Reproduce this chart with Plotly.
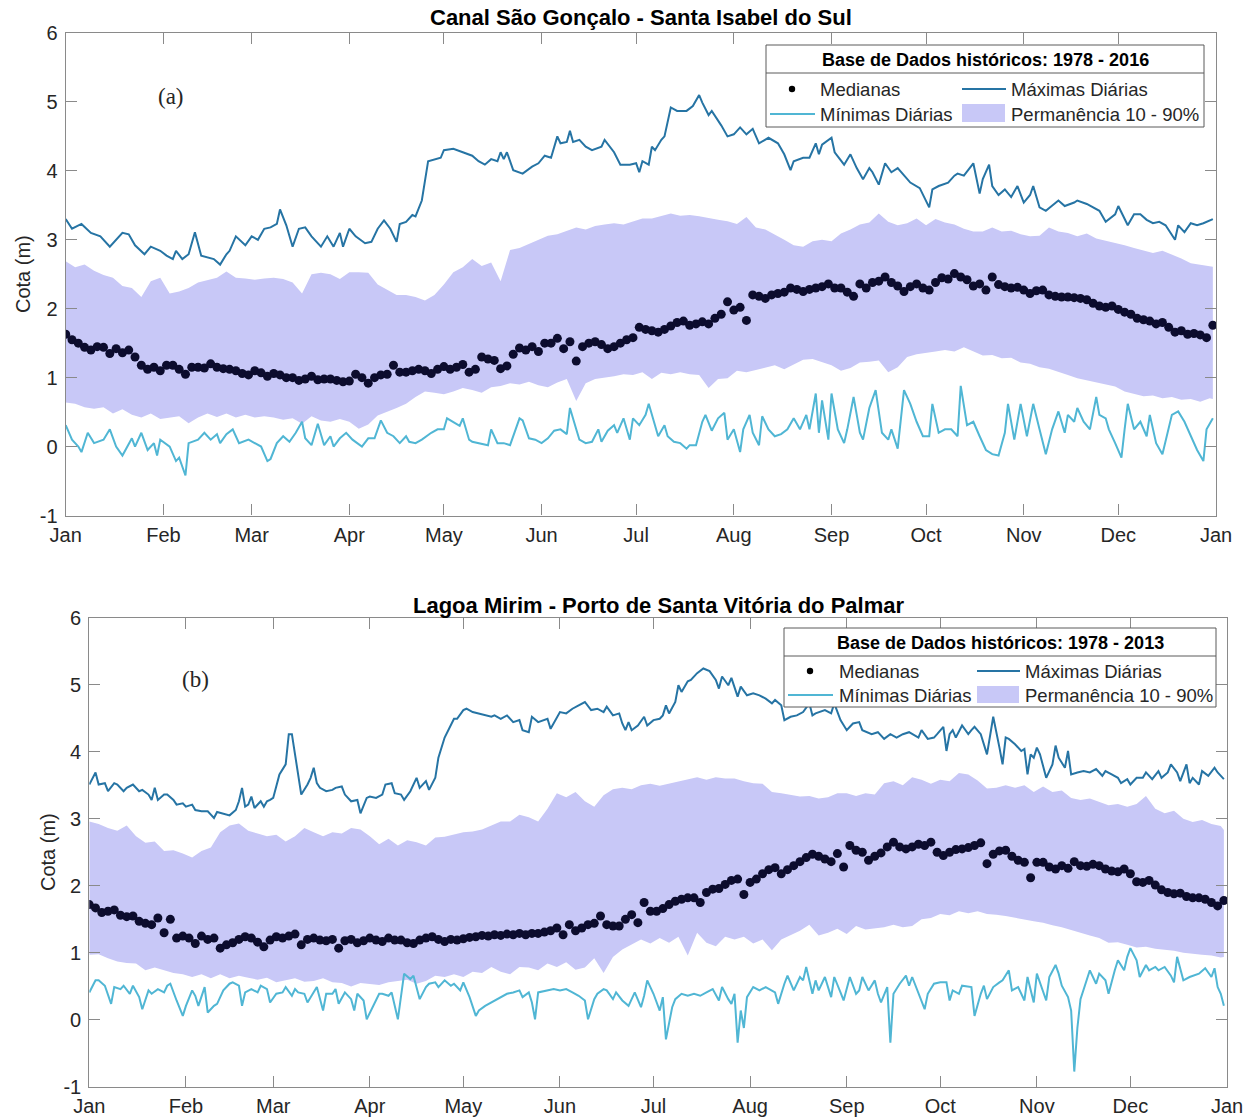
import plotly.graph_objects as go

W, H = 1250, 1118

# ---------------------------------------------------------------------------
# Common calendar axis (day of year)
# ---------------------------------------------------------------------------
MONTH_START = [0, 31, 59, 90, 120, 151, 181, 212, 243, 273, 304, 334, 365]
MONTH_LABELS = ["Jan", "Feb", "Mar", "Apr", "May", "Jun", "Jul",
                "Aug", "Sep", "Oct", "Nov", "Dec", "Jan"]
Y_TICKS = [-1, 0, 1, 2, 3, 4, 5, 6]

MED_DAYS = list(range(0, 365, 2))                 # median sampled every 2 days
BAND_DAYS = list(range(0, 364, 3)) + [364]        # 10-90 % band sampled every 3 days

# ---------------------------------------------------------------------------
# (a) Canal São Gonçalo - Santa Isabel do Sul  (1978 - 2016)
# ---------------------------------------------------------------------------
MED_A = [
    1.63, 1.55, 1.50, 1.44, 1.40, 1.45, 1.44, 1.35, 1.42, 1.36,
    1.40, 1.30, 1.18, 1.12, 1.15, 1.10, 1.18, 1.18, 1.12, 1.05,
    1.15, 1.15, 1.14, 1.20, 1.15, 1.13, 1.12, 1.10, 1.06, 1.04,
    1.10, 1.07, 1.02, 1.06, 1.04, 1.00, 1.00, 0.96, 0.98, 1.02,
    0.97, 0.98, 0.98, 0.96, 0.94, 0.95, 1.05, 1.00, 0.92, 1.00,
    1.04, 1.05, 1.18, 1.08, 1.08, 1.10, 1.12, 1.10, 1.06, 1.12,
    1.16, 1.12, 1.15, 1.19, 1.08, 1.12, 1.30, 1.27, 1.25, 1.13,
    1.17, 1.34, 1.43, 1.40, 1.45, 1.38, 1.50, 1.50, 1.57, 1.42,
    1.52, 1.24, 1.45, 1.50, 1.52, 1.48, 1.42, 1.45, 1.50, 1.55,
    1.58, 1.73, 1.70, 1.68, 1.66, 1.70, 1.75, 1.80, 1.82, 1.76,
    1.78, 1.81, 1.78, 1.86, 1.92, 2.10, 1.98, 2.02, 1.83, 2.20,
    2.18, 2.15, 2.20, 2.22, 2.24, 2.30, 2.28, 2.25, 2.28, 2.30,
    2.32, 2.36, 2.30, 2.30, 2.24, 2.18, 2.36, 2.30, 2.38, 2.40,
    2.46, 2.38, 2.33, 2.25, 2.32, 2.36, 2.30, 2.27, 2.38, 2.45,
    2.43, 2.51, 2.46, 2.42, 2.33, 2.36, 2.27, 2.46, 2.35, 2.32,
    2.30, 2.31, 2.27, 2.22, 2.26, 2.27, 2.20, 2.18, 2.17, 2.17,
    2.16, 2.15, 2.13, 2.08, 2.04, 2.02, 2.04, 1.99, 1.95, 1.92,
    1.86, 1.84, 1.82, 1.78, 1.80, 1.73, 1.66, 1.68, 1.63, 1.64,
    1.62, 1.58, 1.76,
]

BAND_A_UP = [
    2.69, 2.60, 2.64, 2.55, 2.49, 2.45, 2.33, 2.30, 2.17, 2.40,
    2.45, 2.22, 2.25, 2.30, 2.38, 2.42, 2.45, 2.54, 2.45, 2.44,
    2.42, 2.44, 2.45, 2.43, 2.38, 2.22, 2.50, 2.52, 2.50, 2.43,
    2.53, 2.53, 2.52, 2.35, 2.27, 2.20, 2.20, 2.17, 2.12, 2.20,
    2.35, 2.53, 2.60, 2.72, 2.62, 2.67, 2.40, 2.85, 2.88, 2.94,
    3.00, 3.06, 3.08, 3.13, 3.18, 3.15, 3.20, 3.22, 3.24, 3.22,
    3.26, 3.31, 3.31, 3.34, 3.38, 3.35, 3.36, 3.34, 3.31, 3.29,
    3.27, 3.23, 3.33, 3.18, 3.15, 3.08, 3.00, 2.92, 2.90, 2.98,
    3.00, 2.98, 3.09, 3.15, 3.22, 3.25, 3.38, 3.26, 3.21, 3.24,
    3.31, 3.21, 3.30, 3.25, 3.22, 3.16, 3.12, 3.12, 3.18, 3.12,
    3.13, 3.08, 3.05, 3.06, 3.18, 3.12, 3.10, 3.05, 3.09, 3.02,
    2.99, 2.95, 2.92, 2.88, 2.84, 2.81, 2.84, 2.79, 2.73, 2.66,
    2.64, 2.62, 2.61,
]

BAND_A_LO = [
    0.64, 0.62, 0.57, 0.55, 0.57, 0.48, 0.54, 0.46, 0.42, 0.48,
    0.40, 0.42, 0.44, 0.34, 0.42, 0.48, 0.43, 0.48, 0.42, 0.46,
    0.42, 0.44, 0.42, 0.39, 0.41, 0.33, 0.44, 0.38, 0.36, 0.40,
    0.36, 0.26, 0.32, 0.45, 0.50, 0.56, 0.62, 0.72, 0.80, 0.78,
    0.76, 0.80, 0.85, 0.82, 0.78, 0.86, 0.88, 0.92, 0.90, 0.94,
    0.89, 0.86, 0.93, 0.98, 0.66, 0.92, 0.98, 1.00, 1.02, 1.05,
    1.04, 1.08, 0.98, 1.07, 1.05, 1.08, 1.05, 1.04, 0.85, 0.98,
    0.99, 1.10, 1.08, 1.11, 1.14, 1.18, 1.12, 1.19, 1.26, 1.27,
    1.22, 1.18, 1.10, 1.14, 1.22, 1.23, 1.25, 1.08, 1.15, 1.30,
    1.34, 1.36, 1.38, 1.40, 1.38, 1.44, 1.38, 1.32, 1.33, 1.28,
    1.29, 1.22, 1.20, 1.15, 1.13, 1.08, 1.04, 0.99, 0.96, 0.92,
    0.90, 0.87, 0.80, 0.76, 0.73, 0.74, 0.70, 0.72, 0.68, 0.69,
    0.65, 0.70, 0.69,
]

MAX_A_DAY = [
    0, 2, 5, 8, 11, 14, 18, 20, 22, 25,
    27, 30, 32, 34, 35, 37, 39, 41, 43, 45,
    47, 49, 51, 52, 54, 57, 59, 61, 63, 65,
    67, 68, 70, 72, 74, 76, 78, 81, 83, 85,
    87, 88, 90, 92, 95, 97, 99, 101, 103, 105,
    106, 108, 110, 111, 113, 115, 117, 119, 120, 123,
    126, 129, 131, 133, 135, 137, 138, 139, 140, 142,
    145, 148, 150, 152, 154, 156, 157, 159, 160, 161,
    163, 165, 167, 168, 170, 171, 174, 176, 179, 181,
    182, 183, 185, 186, 187, 189, 190, 192, 194, 197,
    199, 201, 202, 204, 205, 208, 210, 212, 214, 216,
    218, 220, 223, 226, 228, 230, 231, 234, 236, 238,
    239, 240, 243, 244, 247, 249, 251, 253, 255, 256,
    258, 260, 262, 264, 266, 268, 271, 274, 275, 277,
    280, 282, 283, 285, 288, 289, 290, 291, 293, 294,
    296, 298, 300, 302, 304, 306, 307, 309, 311, 315,
    317, 320, 321, 324, 326, 328, 330, 333, 334, 336,
    337, 339, 341, 343, 345, 347, 349, 352, 353, 355,
    357, 359, 361, 364,
]
MAX_A = [
    3.30, 3.16, 3.23, 3.10, 3.05, 2.90, 3.10, 3.08, 2.92, 2.79,
    2.90, 2.84, 2.77, 2.72, 2.84, 2.72, 2.79, 3.11, 2.77, 2.74,
    2.72, 2.64, 2.79, 2.84, 3.05, 2.92, 3.05, 3.00, 3.16, 3.18,
    3.23, 3.44, 3.21, 2.90, 3.16, 3.18, 3.05, 2.90, 3.05, 2.90,
    3.10, 2.90, 3.16, 3.05, 2.95, 2.97, 3.16, 3.28, 3.16, 2.97,
    3.23, 3.26, 3.36, 3.34, 3.57, 4.14, 4.17, 4.19, 4.30, 4.32,
    4.27, 4.22, 4.14, 4.09, 4.17, 4.14, 4.27, 4.17, 4.27, 4.01,
    3.96, 4.06, 4.11, 4.22, 4.19, 4.50, 4.40, 4.42, 4.58, 4.42,
    4.45, 4.35, 4.30, 4.32, 4.35, 4.45, 4.27, 4.09, 4.09, 4.11,
    3.98, 4.14, 4.09, 4.35, 4.30, 4.45, 4.50, 4.92, 4.87, 4.87,
    4.94, 5.10, 4.99, 4.81, 4.87, 4.66, 4.50, 4.53, 4.63, 4.53,
    4.61, 4.40, 4.48, 4.40, 4.24, 4.01, 4.14, 4.19, 4.19, 4.40,
    4.24, 4.38, 4.48, 4.27, 4.09, 4.24, 4.04, 3.88, 4.04, 3.98,
    3.80, 4.11, 3.98, 4.04, 3.93, 3.83, 3.75, 3.47, 3.73, 3.78,
    3.83, 3.93, 3.96, 3.93, 4.11, 3.88, 3.67, 3.88, 4.09, 3.78,
    3.65, 3.73, 3.62, 3.78, 3.54, 3.65, 3.78, 3.47, 3.42, 3.57,
    3.49, 3.54, 3.57, 3.52, 3.47, 3.42, 3.26, 3.37, 3.49, 3.31,
    3.21, 3.37, 3.37, 3.29, 3.24, 3.26, 3.21, 3.00, 3.21, 3.11,
    3.24, 3.21, 3.24, 3.30,
]

MIN_A_DAY = [
    0, 2, 4, 5, 7, 9, 12, 14, 16, 18,
    21, 22, 24, 26, 28, 29, 30, 33, 35, 36,
    38, 39, 42, 44, 46, 48, 49, 51, 53, 55,
    58, 60, 62, 64, 65, 67, 69, 71, 73, 75,
    76, 78, 80, 82, 84, 85, 87, 89, 91, 94,
    96, 98, 100, 102, 104, 106, 108, 109, 111, 113,
    116, 118, 120, 121, 123, 125, 126, 128, 129, 131,
    134, 135, 137, 139, 141, 144, 145, 147, 149, 151,
    153, 155, 157, 159, 160, 162, 163, 165, 167, 169,
    170, 172, 174, 175, 177, 179, 180, 182, 184, 185,
    187, 188, 190, 191, 193, 195, 197, 198, 200, 202,
    203, 205, 207, 209, 210, 212, 214, 215, 217, 218,
    220, 221, 223, 225, 227, 229, 231, 233, 235, 236,
    238, 239, 240, 242, 243, 245, 247, 248, 250, 252,
    253, 255, 257, 259, 261, 262, 264, 266, 268, 270,
    272, 274, 275, 277, 279, 281, 283, 284, 286, 288,
    290, 292, 294, 296, 298, 299, 301, 303, 305, 307,
    309, 311, 313, 315, 317, 318, 320, 321, 323, 325,
    327, 328, 330, 331, 333, 335, 336, 337, 339, 341,
    343, 344, 346, 348, 351, 353, 355, 357, 359, 361,
    362, 364,
]
MIN_A = [
    0.31, 0.10, 0.00, -0.08, 0.20, 0.05, 0.10, 0.25, 0.00, -0.13,
    0.12, 0.00, 0.20, -0.05, 0.05, -0.13, 0.10, 0.00, -0.21, -0.16,
    -0.42, 0.05, 0.10, 0.20, 0.10, 0.18, 0.05, 0.18, 0.25, 0.05,
    0.10, 0.05, 0.00, -0.21, -0.18, 0.05, 0.15, 0.07, 0.20, 0.36,
    0.12, 0.02, 0.33, 0.02, 0.15, 0.00, 0.12, 0.20, 0.10, 0.00,
    0.12, 0.12, 0.38, 0.20, 0.15, 0.05, 0.15, 0.07, 0.05, 0.10,
    0.20, 0.25, 0.25, 0.41, 0.36, 0.30, 0.41, 0.10, 0.07, 0.05,
    0.02, 0.25, 0.05, 0.05, 0.02, 0.41, 0.38, 0.12, 0.10, 0.05,
    0.12, 0.23, 0.25, 0.18, 0.56, 0.25, 0.10, 0.05, 0.07, 0.25,
    0.07, 0.23, 0.31, 0.20, 0.41, 0.10, 0.41, 0.31, 0.46, 0.62,
    0.31, 0.15, 0.31, 0.15, 0.07, 0.05, -0.03, 0.02, 0.02, 0.36,
    0.46, 0.23, 0.41, 0.49, 0.10, 0.25, -0.08, 0.25, 0.46, 0.20,
    0.02, 0.44, 0.25, 0.15, 0.18, 0.25, 0.41, 0.25, 0.46, 0.25,
    0.77, 0.20, 0.67, 0.10, 0.77, 0.25, 0.05, 0.25, 0.72, 0.20,
    0.10, 0.56, 0.82, 0.20, 0.10, 0.25, -0.03, 0.82, 0.62, 0.36,
    0.15, 0.15, 0.62, 0.20, 0.25, 0.25, 0.15, 0.88, 0.31, 0.36,
    0.15, -0.05, -0.11, -0.13, 0.20, 0.62, 0.10, 0.62, 0.15, 0.62,
    0.25, -0.11, 0.25, 0.51, 0.20, 0.46, 0.36, 0.56, 0.36, 0.25,
    0.72, 0.46, 0.41, 0.25, 0.05, -0.16, 0.25, 0.62, 0.25, 0.36,
    0.15, 0.46, 0.05, -0.11, 0.46, 0.51, 0.36, 0.15, -0.05, -0.21,
    0.25, 0.41,
]

# ---------------------------------------------------------------------------
# (b) Lagoa Mirim - Porto de Santa Vitória do Palmar  (1978 - 2013)
# ---------------------------------------------------------------------------
MED_B = [
    1.72, 1.67, 1.60, 1.62, 1.64, 1.56, 1.54, 1.55, 1.47, 1.44,
    1.42, 1.52, 1.30, 1.50, 1.22, 1.25, 1.22, 1.14, 1.25, 1.20,
    1.22, 1.07, 1.12, 1.15, 1.20, 1.24, 1.22, 1.16, 1.09, 1.19,
    1.24, 1.22, 1.25, 1.28, 1.12, 1.20, 1.22, 1.19, 1.18, 1.20,
    1.07, 1.18, 1.20, 1.15, 1.18, 1.22, 1.19, 1.17, 1.22, 1.19,
    1.19, 1.15, 1.14, 1.19, 1.22, 1.24, 1.20, 1.17, 1.20, 1.19,
    1.21, 1.23, 1.24, 1.26, 1.25, 1.27, 1.26, 1.28, 1.27, 1.29,
    1.27, 1.29, 1.29, 1.31, 1.33, 1.37, 1.27, 1.42, 1.33, 1.37,
    1.42, 1.44, 1.55, 1.42, 1.40, 1.40, 1.50, 1.57, 1.45, 1.75,
    1.62, 1.62, 1.66, 1.72, 1.77, 1.80, 1.82, 1.82, 1.75, 1.90,
    1.95, 1.96, 2.02, 2.08, 2.10, 1.87, 2.05, 2.10, 2.18, 2.24,
    2.27, 2.18, 2.24, 2.30, 2.36, 2.42, 2.47, 2.44, 2.40, 2.36,
    2.48, 2.28, 2.60, 2.53, 2.50, 2.38, 2.44, 2.49, 2.58, 2.65,
    2.58, 2.55, 2.58, 2.62, 2.60, 2.65, 2.50, 2.45, 2.50, 2.54,
    2.55, 2.57, 2.60, 2.64, 2.33, 2.47, 2.52, 2.53, 2.44, 2.38,
    2.35, 2.12, 2.35, 2.35, 2.28, 2.25, 2.30, 2.26, 2.36, 2.30,
    2.29, 2.32, 2.30, 2.25, 2.22, 2.21, 2.25, 2.18, 2.06, 2.05,
    2.08, 2.01, 1.94, 1.90, 1.88, 1.89, 1.84, 1.82, 1.82, 1.80,
    1.75, 1.70, 1.78,
]

BAND_B_UP = [
    2.96, 2.92, 2.86, 2.82, 2.90, 2.74, 2.64, 2.66, 2.52, 2.53,
    2.48, 2.42, 2.52, 2.57, 2.80, 2.90, 2.93, 2.82, 2.78, 2.74,
    2.76, 2.66, 2.74, 2.86, 2.80, 2.74, 2.80, 2.78, 2.86, 2.84,
    2.74, 2.62, 2.70, 2.60, 2.68, 2.65, 2.60, 2.72, 2.73, 2.76,
    2.80, 2.81, 2.84, 2.90, 2.96, 2.96, 3.06, 3.02, 2.96, 3.15,
    3.38, 3.32, 3.40, 3.26, 3.18, 3.35, 3.44, 3.46, 3.44, 3.50,
    3.52, 3.49, 3.52, 3.56, 3.58, 3.62, 3.58, 3.62, 3.60, 3.60,
    3.56, 3.53, 3.52, 3.40, 3.38, 3.36, 3.33, 3.34, 3.30, 3.32,
    3.38, 3.38, 3.34, 3.38, 3.36, 3.53, 3.56, 3.50, 3.62, 3.58,
    3.52, 3.58, 3.56, 3.68, 3.66, 3.57, 3.45, 3.46, 3.50, 3.46,
    3.50, 3.40, 3.48, 3.40, 3.42, 3.31, 3.28, 3.30, 3.25, 3.20,
    3.22, 3.18, 3.22, 3.34, 3.15, 3.08, 3.12, 3.00, 2.95, 2.98,
    2.92, 2.89, 2.83,
]

BAND_B_LO = [
    0.97, 0.98, 0.92, 0.87, 0.85, 0.84, 0.74, 0.78, 0.74, 0.70,
    0.68, 0.64, 0.68, 0.62, 0.68, 0.62, 0.66, 0.63, 0.60, 0.63,
    0.56, 0.59, 0.62, 0.57, 0.58, 0.62, 0.56, 0.55, 0.50, 0.55,
    0.53, 0.52, 0.56, 0.58, 0.60, 0.54, 0.58, 0.66, 0.64, 0.68,
    0.64, 0.72, 0.70, 0.79, 0.72, 0.68, 0.79, 0.78, 0.74, 0.84,
    0.79, 0.86, 0.75, 0.78, 0.92, 0.70, 0.94, 1.05, 1.12, 1.20,
    1.14, 1.22, 1.15, 1.24, 0.96, 1.30, 1.15, 1.10, 1.24, 1.20,
    1.24, 1.14, 1.20, 1.04, 1.20, 1.26, 1.33, 1.42, 1.26, 1.30,
    1.36, 1.28, 1.40, 1.35, 1.36, 1.38, 1.42, 1.38, 1.40, 1.50,
    1.52, 1.58, 1.56, 1.62, 1.59, 1.62, 1.58, 1.57, 1.55, 1.52,
    1.50, 1.47, 1.45, 1.41, 1.38, 1.35, 1.30, 1.26, 1.22, 1.15,
    1.16, 1.12, 1.08, 1.09, 1.06, 1.04, 1.03, 1.00, 0.98, 0.97,
    0.96, 0.93, 0.94,
]

MAX_B_DAY = [
    0, 1, 2, 3, 5, 6, 8, 9, 11, 12,
    14, 16, 17, 19, 20, 21, 22, 24, 25, 27,
    28, 30, 31, 33, 34, 36, 38, 39, 40, 41,
    43, 45, 47, 48, 49, 50, 51, 52, 53, 55,
    56, 57, 58, 59, 61, 63, 64, 65, 66, 67,
    68, 70, 71, 72, 73, 74, 76, 78, 79, 81,
    82, 84, 86, 87, 89, 90, 92, 94, 95, 97,
    98, 100, 101, 103, 105, 106, 108, 109, 111, 112,
    114, 117, 118, 120, 121, 123, 125, 127, 129, 130,
    132, 134, 136, 138, 139, 141, 142, 144, 147, 148,
    150, 151, 153, 155, 157, 159, 161, 163, 165, 166,
    168, 170, 171, 172, 173, 174, 176, 178, 179, 181,
    183, 184, 185, 186, 188, 189, 190, 192, 193, 195,
    197, 199, 201, 202, 203, 205, 206, 208, 209, 211,
    213, 215, 217, 219, 220, 222, 223, 225, 227, 229,
    231, 232, 233, 236, 238, 239, 241, 243, 245, 247,
    248, 251, 253, 255, 257, 259, 261, 263, 266, 267,
    269, 271, 272, 274, 275, 276, 277, 278, 280, 282,
    283, 284, 286, 288, 290, 291, 292, 293, 294, 295,
    297, 299, 300, 301, 302, 303, 304, 305, 306, 307,
    309, 310, 311, 313, 314, 315, 317, 319, 321, 323,
    325, 326, 328, 330, 331, 333, 334, 336, 338, 339,
    341, 343, 344, 346, 347, 349, 350, 352, 353, 354,
    356, 357, 359, 361, 362, 364,
]
MAX_B = [
    3.51, 3.59, 3.69, 3.51, 3.53, 3.41, 3.53, 3.51, 3.41, 3.46,
    3.51, 3.41, 3.43, 3.36, 3.28, 3.46, 3.28, 3.36, 3.36, 3.28,
    3.21, 3.23, 3.18, 3.21, 3.13, 3.11, 3.11, 3.06, 3.01, 3.10,
    3.08, 3.05, 3.13, 3.26, 3.46, 3.18, 3.21, 3.33, 3.16, 3.26,
    3.18, 3.26, 3.28, 3.31, 3.66, 3.81, 4.26, 4.26, 3.96, 3.66,
    3.36, 3.51, 3.61, 3.76, 3.53, 3.46, 3.41, 3.43, 3.46, 3.48,
    3.36, 3.26, 3.28, 3.08, 3.31, 3.33, 3.31, 3.36, 3.51, 3.53,
    3.38, 3.36, 3.28, 3.41, 3.61, 3.46, 3.56, 3.43, 3.61, 3.91,
    4.21, 4.49, 4.49, 4.62, 4.64, 4.59, 4.57, 4.54, 4.52, 4.54,
    4.49, 4.54, 4.44, 4.47, 4.32, 4.29, 4.52, 4.44, 4.49, 4.34,
    4.52, 4.59, 4.57, 4.64, 4.69, 4.74, 4.62, 4.64, 4.59, 4.67,
    4.54, 4.57, 4.42, 4.32, 4.44, 4.32, 4.39, 4.52, 4.39, 4.47,
    4.49, 4.54, 4.69, 4.57, 4.74, 4.99, 4.89, 5.05, 5.07, 5.17,
    5.24, 5.20, 5.07, 4.94, 5.12, 4.99, 5.10, 4.82, 4.97, 4.84,
    4.87, 4.84, 4.79, 4.72, 4.77, 4.69, 4.47, 4.52, 4.54, 4.59,
    4.72, 4.54, 4.57, 4.62, 4.57, 4.72, 4.47, 4.32, 4.42, 4.44,
    4.32, 4.26, 4.29, 4.19, 4.26, 4.21, 4.26, 4.29, 4.21, 4.32,
    4.19, 4.21, 4.26, 4.37, 4.01, 4.26, 4.32, 4.21, 4.39, 4.26,
    4.32, 4.37, 4.26, 3.96, 4.52, 4.26, 4.06, 3.81, 4.21, 4.19,
    4.11, 4.01, 4.04, 3.66, 3.96, 3.91, 4.06, 3.96, 3.76, 3.61,
    3.81, 4.09, 3.91, 3.76, 4.01, 3.66, 3.69, 3.71, 3.69, 3.74,
    3.64, 3.71, 3.66, 3.61, 3.53, 3.59, 3.51, 3.61, 3.61, 3.69,
    3.59, 3.71, 3.61, 3.69, 3.81, 3.69, 3.56, 3.81, 3.53, 3.61,
    3.51, 3.71, 3.64, 3.76, 3.69, 3.59,
]

MIN_B_DAY = [
    0, 2, 3, 5, 7, 8, 10, 11, 13, 14,
    16, 17, 19, 20, 22, 24, 25, 26, 28, 30,
    31, 33, 34, 35, 37, 38, 40, 41, 43, 45,
    46, 48, 49, 50, 52, 54, 55, 57, 58, 60,
    62, 63, 65, 66, 67, 69, 70, 72, 73, 75,
    76, 78, 79, 80, 82, 84, 85, 86, 88, 89,
    91, 93, 94, 96, 97, 99, 101, 103, 104, 106,
    108, 109, 111, 112, 114, 116, 117, 119, 120, 122,
    124, 125, 127, 129, 132, 134, 136, 138, 139, 141,
    142, 143, 144, 147, 149, 151, 153, 155, 157, 159,
    160, 162, 163, 165, 166, 168, 169, 171, 173, 175,
    177, 178, 179, 181, 183, 184, 185, 187, 188, 190,
    192, 194, 196, 198, 200, 202, 203, 205, 206, 207,
    208, 209, 210, 211, 213, 215, 217, 220, 221, 223,
    224, 226, 228, 229, 230, 232, 233, 234, 236, 238,
    239, 241, 242, 244, 246, 247, 248, 250, 252, 253,
    254, 256, 257, 258, 260, 262, 263, 264, 266, 268,
    269, 271, 273, 275, 276, 277, 279, 280, 283, 284,
    286, 287, 288, 290, 292, 293, 295, 296, 298, 300,
    301, 303, 304, 306, 307, 308, 310, 311, 312, 314,
    315, 316, 317, 318, 320, 321, 323, 324, 326, 327,
    329, 330, 332, 333, 334, 336, 337, 339, 340, 342,
    343, 345, 347, 348, 349, 351, 353, 354, 356, 358,
    360, 361, 362, 363, 364,
]
MIN_B = [
    0.41, 0.59, 0.59, 0.51, 0.24, 0.49, 0.46, 0.51, 0.39, 0.51,
    0.34, 0.16, 0.44, 0.39, 0.46, 0.41, 0.51, 0.54, 0.29, 0.06,
    0.21, 0.44, 0.36, 0.21, 0.49, 0.11, 0.21, 0.24, 0.44, 0.54,
    0.56, 0.51, 0.21, 0.41, 0.46, 0.41, 0.51, 0.46, 0.26, 0.39,
    0.41, 0.49, 0.36, 0.46, 0.41, 0.39, 0.26, 0.41, 0.49, 0.14,
    0.39, 0.39, 0.46, 0.24, 0.41, 0.31, 0.14, 0.39, 0.29, 0.01,
    0.19, 0.39, 0.39, 0.36, 0.41, 0.01, 0.69, 0.61, 0.66, 0.31,
    0.49, 0.54, 0.56, 0.49, 0.59, 0.51, 0.54, 0.44, 0.56, 0.34,
    0.06, 0.14, 0.21, 0.26, 0.34, 0.39, 0.41, 0.44, 0.34, 0.41,
    0.26, 0.01, 0.41, 0.44, 0.46, 0.44, 0.46, 0.41, 0.36, 0.29,
    0.01, 0.31, 0.39, 0.46, 0.44, 0.31, 0.41, 0.29, 0.21, 0.41,
    0.19, 0.36, 0.59, 0.39, 0.14, 0.34, -0.29, 0.19, 0.31, 0.39,
    0.36, 0.39, 0.36, 0.41, 0.46, 0.29, 0.49, 0.31, 0.24, 0.39,
    -0.34, 0.14, -0.12, 0.34, 0.49, 0.44, 0.49, 0.41, 0.24, 0.54,
    0.66, 0.44, 0.64, 0.59, 0.79, 0.39, 0.59, 0.44, 0.64, 0.34,
    0.64, 0.41, 0.29, 0.64, 0.39, 0.44, 0.64, 0.44, 0.59, 0.39,
    0.26, 0.49, -0.34, 0.39, 0.54, 0.66, 0.51, 0.64, 0.39, 0.16,
    0.39, 0.54, 0.56, 0.56, 0.29, 0.44, 0.39, 0.51, 0.49, 0.06,
    0.39, 0.51, 0.31, 0.49, 0.56, 0.59, 0.74, 0.44, 0.49, 0.29,
    0.64, 0.26, 0.69, 0.44, 0.29, 0.64, 0.82, 0.69, 0.51, 0.34,
    0.14, -0.77, -0.12, 0.31, 0.59, 0.74, 0.54, 0.69, 0.59, 0.39,
    0.74, 0.89, 0.74, 0.94, 1.07, 0.89, 0.64, 0.82, 0.74, 0.79,
    0.74, 0.79, 0.66, 0.56, 0.94, 0.59, 0.64, 0.66, 0.69, 0.77,
    0.64, 0.77, 0.49, 0.39, 0.21,
]

# ---------------------------------------------------------------------------
# Styling
# ---------------------------------------------------------------------------
SANS = "Liberation Sans, Arial, Helvetica, sans-serif"
SERIF = "Liberation Serif, Times New Roman, serif"
TXT = "#262626"
AX = "#8a8a8a"
BAND_COLOR = "rgb(200,200,247)"
MAX_COLOR = "rgb(38,116,164)"
MIN_COLOR = "rgb(80,182,212)"
MED_COLOR = "rgb(12,12,46)"


def fx(px):
    return px / W


def fy(py):
    return 1 - py / H


fig = go.Figure()


def add_panel(xa, ya, up, lo, max_d, max_v, min_d, min_v, med):
    fig.add_trace(go.Scatter(
        x=BAND_DAYS + BAND_DAYS[::-1], y=up + lo[::-1],
        fill="toself", fillcolor=BAND_COLOR, mode="lines",
        line=dict(width=0), xaxis=xa, yaxis=ya,
        hoverinfo="skip", showlegend=False))
    fig.add_trace(go.Scatter(
        x=min_d, y=min_v, mode="lines",
        line=dict(color=MIN_COLOR, width=2),
        xaxis=xa, yaxis=ya, showlegend=False))
    fig.add_trace(go.Scatter(
        x=max_d, y=max_v, mode="lines",
        line=dict(color=MAX_COLOR, width=2),
        xaxis=xa, yaxis=ya, showlegend=False))
    fig.add_trace(go.Scatter(
        x=MED_DAYS, y=med, mode="markers",
        marker=dict(color=MED_COLOR, size=9, line=dict(width=0)),
        xaxis=xa, yaxis=ya, showlegend=False))


add_panel("x", "y", BAND_A_UP, BAND_A_LO, MAX_A_DAY, MAX_A, MIN_A_DAY, MIN_A, MED_A)
add_panel("x2", "y2", BAND_B_UP, BAND_B_LO, MAX_B_DAY, MAX_B, MIN_B_DAY, MIN_B, MED_B)

# panel frames in pixels: (left, right, top, bottom)
PANEL_A = (65.7, 1216.0, 33.0, 515.5)
PANEL_B = (89.3, 1227.0, 617.5, 1087.0)


def x_axis(panel, anchor):
    l, r, t, b = panel
    return dict(domain=[fx(l), fx(r)], range=[0, 365], anchor=anchor,
                tickmode="array", tickvals=MONTH_START, ticktext=MONTH_LABELS,
                ticks="inside", ticklen=11, tickwidth=1, tickcolor=AX,
                showline=True, linecolor=AX, linewidth=1.2, mirror="ticks",
                showgrid=False, zeroline=False, ticklabelstandoff=1,
                tickfont=dict(family=SANS, size=20, color=TXT))


def y_axis(panel, anchor):
    l, r, t, b = panel
    return dict(domain=[fy(b), fy(t)], range=[-1, 6], anchor=anchor,
                tickmode="array", tickvals=Y_TICKS,
                ticktext=[str(v) for v in Y_TICKS],
                ticks="inside", ticklen=11, tickwidth=1, tickcolor=AX,
                showline=True, linecolor=AX, linewidth=1.2, mirror="ticks",
                showgrid=False, zeroline=False, ticklabelstandoff=3,
                tickfont=dict(family=SANS, size=20, color=TXT))


annotations = []
shapes = []


def text(px, py, s, size, family=SANS, bold=False, xanchor="center", angle=0):
    annotations.append(dict(
        xref="paper", yref="paper", x=fx(px), y=fy(py),
        text=f"<b>{s}</b>" if bold else s, showarrow=False,
        xanchor=xanchor, yanchor="middle", textangle=angle,
        font=dict(family=family, size=size, color="#000000" if bold else TXT)))


# titles, axis labels and panel tags
text(641, 18, "Canal São Gonçalo - Santa Isabel do Sul", 22, bold=True)
text(658, 605, "Lagoa Mirim - Porto de Santa Vitória do Palmar", 22, bold=True)
text(23, 274, "Cota (m)", 20, angle=-90)
text(48, 852, "Cota (m)", 20, angle=-90)
text(171, 96, "(a)", 23, family=SERIF)
text(195, 679, "(b)", 23, family=SERIF)


def legend_box(box, sep_y, title, row1, row2, dot_x, min_line, max_line,
               patch, text_l, text_r):
    x0, x1, y0, y1 = box
    shapes.append(dict(type="rect", xref="paper", yref="paper",
                       x0=fx(x0), x1=fx(x1), y0=fy(y1), y1=fy(y0),
                       fillcolor="white", line=dict(color="#5a5a5a", width=1)))
    shapes.append(dict(type="line", xref="paper", yref="paper",
                       x0=fx(x0), x1=fx(x1), y0=fy(sep_y), y1=fy(sep_y),
                       line=dict(color="#5a5a5a", width=1)))
    text((x0 + x1) / 2, (y0 + sep_y) / 2 + 1, title, 18, bold=True)
    # Medianas
    r = 3.2
    shapes.append(dict(type="circle", xref="paper", yref="paper",
                       x0=fx(dot_x - r), x1=fx(dot_x + r),
                       y0=fy(row1 + r), y1=fy(row1 - r),
                       fillcolor="#000000", line=dict(width=0)))
    text(text_l, row1, "Medianas", 18.5, xanchor="left")
    # Máximas Diárias
    shapes.append(dict(type="line", xref="paper", yref="paper",
                       x0=fx(max_line[0]), x1=fx(max_line[1]),
                       y0=fy(row1), y1=fy(row1),
                       line=dict(color=MAX_COLOR, width=2)))
    text(text_r, row1, "Máximas Diárias", 18.5, xanchor="left")
    # Mínimas Diárias
    shapes.append(dict(type="line", xref="paper", yref="paper",
                       x0=fx(min_line[0]), x1=fx(min_line[1]),
                       y0=fy(row2), y1=fy(row2),
                       line=dict(color=MIN_COLOR, width=2)))
    text(text_l, row2, "Mínimas Diárias", 18.5, xanchor="left")
    # Permanência 10 - 90%
    px0, px1, py0, py1 = patch
    shapes.append(dict(type="rect", xref="paper", yref="paper",
                       x0=fx(px0), x1=fx(px1), y0=fy(py1), y1=fy(py0),
                       fillcolor=BAND_COLOR, line=dict(width=0)))
    text(text_r, row2, "Permanência 10 - 90%", 18.5, xanchor="left")


legend_box(box=(766, 1204, 45, 127), sep_y=73,
           title="Base de Dados históricos: 1978 - 2016",
           row1=89, row2=114, dot_x=792,
           min_line=(770, 815), max_line=(962, 1006),
           patch=(962, 1005, 104, 122), text_l=818, text_r=1009)

legend_box(box=(784, 1216, 628, 707), sep_y=656,
           title="Base de Dados históricos: 1978 - 2013",
           row1=671, row2=695, dot_x=810,
           min_line=(788, 833), max_line=(977, 1020),
           patch=(977, 1019, 686, 703), text_l=837, text_r=1023)

fig.update_layout(
    width=W, height=H,
    margin=dict(l=0, r=0, t=0, b=0, autoexpand=False),
    paper_bgcolor="white", plot_bgcolor="white",
    showlegend=False,
    xaxis=x_axis(PANEL_A, "y"), yaxis=y_axis(PANEL_A, "x"),
    xaxis2=x_axis(PANEL_B, "y2"), yaxis2=y_axis(PANEL_B, "x2"),
    annotations=annotations, shapes=shapes,
)

fig.write_html("out.html")
